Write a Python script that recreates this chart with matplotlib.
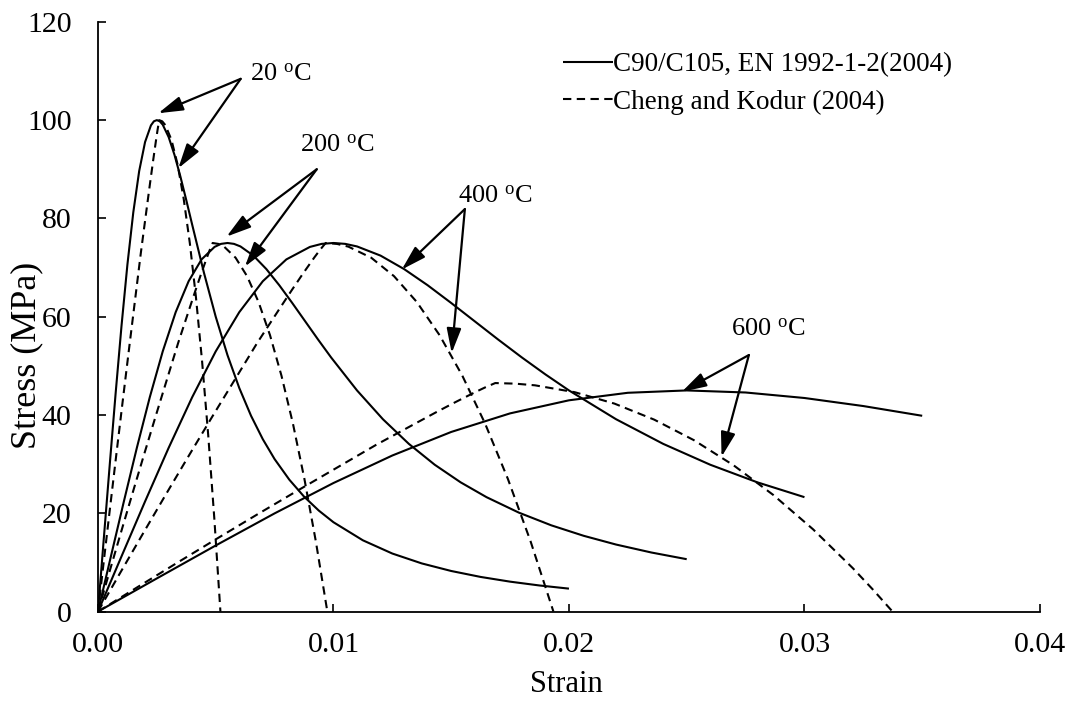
import matplotlib
matplotlib.use('Agg')
import matplotlib.pyplot as plt

# ---------------- data ----------------
# EN 1992-1-2 (2004), C90/C105 -- solid lines
en20_strain = [0, 0.00025, 0.0005, 0.00075, 0.001, 0.00125, 0.0015, 0.00175, 0.002, 0.00225,
               0.002375, 0.0025, 0.002625, 0.00275, 0.003, 0.00325, 0.0035, 0.00375, 0.004,
               0.0045, 0.005, 0.0055, 0.006, 0.0065, 0.007, 0.0075, 0.008125, 0.00875, 0.009375,
               0.01, 0.01125, 0.0125, 0.01375, 0.015, 0.01625, 0.0175, 0.01875, 0.02]
en20_stress = [0, 14.99, 29.88, 44.40, 58.14, 70.59, 81.23, 89.63, 95.54, 98.94,
               99.76, 100.0, 99.76, 99.07, 96.57, 92.92, 88.53, 83.72, 78.74,
               68.95, 60.0, 52.18, 45.50, 39.84, 35.07, 31.03, 26.84, 23.40, 20.56,
               18.18, 14.50, 11.81, 9.80, 8.26, 7.05, 6.09, 5.31, 4.67]

en200_strain = [0, 0.00055, 0.0011, 0.00165, 0.0022, 0.00275, 0.0033, 0.00385, 0.0044, 0.00495,
                0.005225, 0.0055, 0.005775, 0.00605, 0.0066, 0.00715, 0.0077, 0.00825, 0.0088,
                0.00935, 0.0099, 0.011, 0.0121, 0.0132, 0.0143, 0.0154, 0.0165, 0.017875, 0.01925,
                0.020625, 0.022, 0.0235, 0.025]
en200_stress = [0, 11.24, 22.41, 33.30, 43.61, 52.94, 60.92, 67.22, 71.66, 74.20,
                74.82, 75.0, 74.82, 74.30, 72.43, 69.69, 66.40, 62.79, 59.06,
                55.33, 51.71, 45.0, 39.14, 34.13, 29.88, 26.30, 23.28, 20.13, 17.55,
                15.42, 13.64, 12.02, 10.66]

en400_strain = [0, 0.001, 0.002, 0.003, 0.004, 0.005, 0.006, 0.007, 0.008, 0.009,
                0.0095, 0.010, 0.0105, 0.011, 0.012, 0.013, 0.014, 0.015, 0.016, 0.017,
                0.018, 0.019, 0.020, 0.022, 0.024, 0.026, 0.028, 0.030]
en400_stress = [0, 11.24, 22.41, 33.30, 43.61, 52.94, 60.92, 67.22, 71.66, 74.20,
                74.82, 75.0, 74.82, 74.30, 72.43, 69.69, 66.40, 62.79, 59.06, 55.33,
                51.71, 48.26, 45.0, 39.14, 34.13, 29.88, 26.30, 23.28]

en600_strain = [0, 0.0025, 0.005, 0.0075, 0.01, 0.0125, 0.015, 0.0175, 0.02, 0.0225,
                0.025, 0.0275, 0.03, 0.0325, 0.035]
en600_stress = [0, 6.75, 13.45, 19.98, 26.16, 31.76, 36.55, 40.33, 42.99, 44.52,
                45.0, 44.58, 43.46, 41.82, 39.84]

# Cheng and Kodur (2004) -- dashed lines
ck20_strain = [0, 0.00026, 0.00052, 0.00078, 0.00104, 0.0013, 0.00156, 0.00182, 0.00208, 0.00221,
               0.00234, 0.00247, 0.002535, 0.0026, 0.00273, 0.00286, 0.00312, 0.00338, 0.00364,
               0.0039, 0.00416, 0.00442, 0.00468, 0.00494, 0.0052]
ck20_stress = [0, 10.76, 21.41, 31.97, 42.40, 52.70, 62.83, 72.96, 82.42, 87.11,
               91.68, 96.07, 98.14, 100.0, 99.75, 99.0, 96.0, 91.0, 84.0,
               75.0, 64.0, 51.0, 36.0, 19.0, 0.0]

ck200_strain = [0, 0.000487, 0.000974, 0.001461, 0.001948, 0.002435, 0.002922, 0.003409, 0.003896,
                0.0041395, 0.004383, 0.0046265, 0.00474825, 0.00487, 0.0051135, 0.005357, 0.005844,
                0.006331, 0.006818, 0.007305, 0.007792, 0.008279, 0.008766, 0.009253, 0.00974]
ck200_stress = [0, 8.07, 16.06, 23.98, 31.80, 39.52, 47.12, 54.72, 61.81,
                65.33, 68.76, 72.05, 73.60, 75.0, 74.81, 74.25, 72.0,
                68.25, 63.0, 56.25, 48.0, 38.25, 27.0, 14.25, 0.0]

ck400_strain = [0, 0.000967, 0.001934, 0.002901, 0.003868, 0.004835, 0.005802, 0.006769, 0.007736,
                0.0082195, 0.008703, 0.0091865, 0.00942825, 0.00967, 0.0101535, 0.010637, 0.011604,
                0.012571, 0.013538, 0.014505, 0.015472, 0.016439, 0.017406, 0.018373, 0.01934]
ck400_stress = [0, 8.07, 16.06, 23.98, 31.80, 39.52, 47.12, 54.72, 61.81,
                65.33, 68.76, 72.05, 73.60, 75.0, 74.81, 74.25, 72.0,
                68.25, 63.0, 56.25, 48.0, 38.25, 27.0, 14.25, 0.0]

ck600_strain = [0, 0.001687, 0.003374, 0.005061, 0.006748, 0.008435, 0.010122, 0.011809, 0.013496,
                0.0143395, 0.015183, 0.0160265, 0.01644825, 0.01687, 0.0177135, 0.018557, 0.020244,
                0.021931, 0.023618, 0.025305, 0.026992, 0.028679, 0.030366, 0.032053, 0.0328965,
                0.03374]
ck600_stress = [0, 5.00, 9.96, 14.87, 19.72, 24.50, 29.21, 33.92, 38.32,
                40.51, 42.63, 44.67, 45.63, 46.5, 46.38, 46.04, 44.64,
                42.32, 39.06, 34.88, 29.76, 23.72, 16.74, 8.84, 4.53, 0.0]

series_labels = ['C90/C105, EN 1992-1-2(2004)', 'Cheng and Kodur (2004)']
x_ticks = [0.0, 0.01, 0.02, 0.03, 0.04]
x_ticklabels = ['0.00', '0.01', '0.02', '0.03', '0.04']
y_ticks = [0, 20, 40, 60, 80, 100, 120]
temp_labels = ['20', '200', '400', '600']

# ---------------- style ----------------
plt.rcParams['font.family'] = ['Liberation Serif', 'DejaVu Serif']
plt.rcParams['mathtext.fontset'] = 'custom'
plt.rcParams['mathtext.rm'] = 'Liberation Serif'
plt.rcParams['mathtext.it'] = 'Liberation Serif:italic'

fig = plt.figure(figsize=(10.73, 7.02), dpi=100)
ax = fig.add_axes([0.0913, 0.1288, 0.8779, 0.8401])

LW = 1.5
DASH = (0, (4, 2.6))

solid = [(en20_strain, en20_stress), (en200_strain, en200_stress),
         (en400_strain, en400_stress), (en600_strain, en600_stress)]
dashed = [(ck20_strain, ck20_stress), (ck200_strain, ck200_stress),
          (ck400_strain, ck400_stress), (ck600_strain, ck600_stress)]

for i, (x, y) in enumerate(solid):
    ax.plot(x, y, color='black', lw=LW, solid_capstyle='butt', solid_joinstyle='round',
            label=series_labels[0] if i == 0 else None)
for i, (x, y) in enumerate(dashed):
    ax.plot(x, y, color='black', lw=LW, linestyle=DASH, dash_capstyle='butt',
            label=series_labels[1] if i == 0 else None)

ax.set_xlim(0, 0.04)
ax.set_ylim(0, 120)
ax.set_xticks(x_ticks)
ax.set_xticklabels(x_ticklabels)
ax.set_yticks(y_ticks)

for s in ['top', 'right']:
    ax.spines[s].set_visible(False)
for s in ['left', 'bottom']:
    ax.spines[s].set_linewidth(1.3)

ax.tick_params(axis='both', direction='in', length=6, width=1.2, labelsize=21.5, colors='black')
ax.tick_params(axis='y', pad=19)
ax.tick_params(axis='x', pad=15)

ax.set_xlabel('Strain', fontsize=22, va='center')
ax.xaxis.set_label_coords(0.497, -0.123)
ax.set_ylabel('Stress (MPa)', fontsize=26, va='center')
ax.yaxis.set_label_coords(-0.076, 0.435)

leg = ax.legend(loc='upper left', bbox_to_anchor=(0.4936, 0.948), frameon=False,
                fontsize=19.5, handlelength=1.85, handletextpad=0.0,
                borderpad=0, borderaxespad=0, labelspacing=0.45)

# ---------------- annotations ----------------
arrow_kw = dict(arrowstyle='-|>,head_length=0.75,head_width=0.22', color='black',
                lw=1.6, shrinkA=0, shrinkB=0, mutation_scale=20)

# (label position, tail, [tips]) in data coordinates
annots = [
    ((0.00645, 109.2), (0.00606, 108.4), [(0.00256, 101.4), (0.00341, 90.2)]),
    ((0.00858, 94.9), (0.00929, 90.0), [(0.00546, 76.3), (0.00624, 70.2)]),
    ((0.01529, 84.4), (0.01558, 81.9), [(0.0129, 69.6), (0.01502, 52.6)]),
    ((0.0269, 57.3), (0.02764, 52.2), [(0.02479, 44.7), (0.02648, 31.5)]),
]
for t, (lab_pos, tail, tips) in zip(temp_labels, annots):
    ax.text(lab_pos[0], lab_pos[1], t + r' $^{\mathrm{o}}$C', fontsize=19,
            ha='left', va='center')
    for tip in tips:
        ax.annotate('', xy=tip, xytext=tail, xycoords='data', textcoords='data',
                    arrowprops=arrow_kw)

fig.savefig('out.png', dpi=100)
